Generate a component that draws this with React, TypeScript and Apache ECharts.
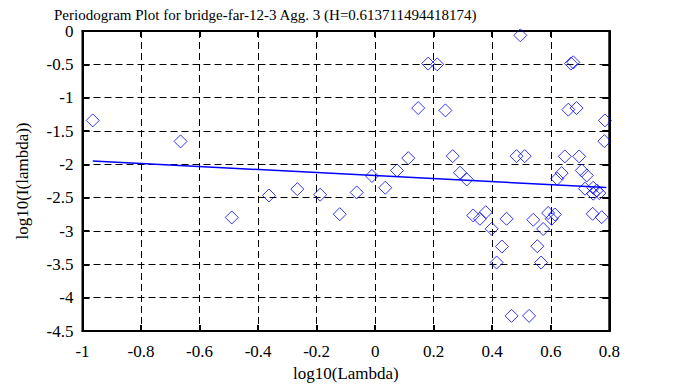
import React, { useEffect, useRef } from "react";
import * as echarts from "echarts";

const titleText = "Periodogram Plot for bridge-far-12-3 Agg. 3 (H=0.613711494418174)";
const xName = "log10(Lambda)";
const yName = "log10(I(lambda))";

const pointX = [
  -0.965, -0.665, -0.49, -0.363, -0.266, -0.188, -0.121, -0.063, -0.011, 0.0345,
  0.0745, 0.113, 0.147, 0.181, 0.212, 0.24, 0.265, 0.29, 0.313, 0.335,
  0.358, 0.378, 0.398, 0.449, 0.433, 0.415, 0.466, 0.526, 0.483, 0.511,
  0.496, 0.54, 0.554, 0.567, 0.574, 0.591, 0.603, 0.614, 0.637, 0.622,
  0.648, 0.697, 0.66, 0.688, 0.669, 0.677, 0.706, 0.723, 0.717, 0.745,
  0.757, 0.745, 0.766, 0.743, 0.774, 0.785, 0.783,
];
const pointY = [
  -1.341, -1.656, -2.797, -2.467, -2.372, -2.456, -2.748, -2.422, -2.174, -2.351,
  -2.092, -1.907, -1.156, -0.489, -0.5, -1.191, -1.877, -2.126, -2.227, -2.767,
  -2.817, -2.718, -2.967, -2.817, -3.233, -3.473, -4.273, -4.273, -1.877, -1.877,
  -0.065, -2.832, -3.228, -3.473, -2.97, -2.73, -2.817, -2.752, -2.132, -2.216,
  -1.881, -1.881, -1.18, -1.156, -0.489, -0.47, -2.092, -2.167, -2.366, -2.351,
  -2.392, -2.441, -2.432, -2.742, -2.793, -1.341, -1.652,
];
const fitX = [-0.965, 0.79];
const fitY = [-1.95, -2.349];

const xTicks = { min: -1, max: 0.8, interval: 0.2 };
const yTicks = { min: -4.5, max: 0, interval: 0.5 };

const FONT = "'Liberation Serif', 'DejaVu Serif', serif";

export default function App() {
  const ref = useRef<HTMLDivElement>(null);
  useEffect(() => {
    if (!ref.current) return;
    const chart = echarts.init(ref.current, null, { renderer: "svg" });
    const gridLine = { show: true, lineStyle: { color: "#000", width: 1, type: [7, 4] as any } };
    const labelStyle = { color: "#000", fontFamily: FONT, fontSize: 17 };
    chart.setOption({
      animation: false,
      backgroundColor: "#fff",
      textStyle: { fontFamily: FONT },
      title: {
        text: titleText,
        left: 49,
        top: 2,
        textStyle: { color: "#000", fontFamily: FONT, fontSize: 15, fontWeight: "normal" },
      },
      grid: {
        left: 82.5,
        right: 68.7,
        top: 31,
        bottom: 56,
        show: true,
        borderColor: "#000",
        borderWidth: 2,
        backgroundColor: "transparent",
      },
      xAxis: [
        {
          type: "value",
          ...xTicks,
          position: "bottom",
          name: xName,
          nameLocation: "middle",
          nameGap: 32,
          nameTextStyle: labelStyle,
          axisLine: { show: true, onZero: false, lineStyle: { color: "#000", width: 2 } },
          axisTick: { show: true, inside: true, length: 6, lineStyle: { color: "#000", width: 2 } },
          axisLabel: { ...labelStyle, margin: 12 },
          splitLine: gridLine,
        },
        {
          type: "value",
          ...xTicks,
          position: "top",
          axisLine: { show: true, onZero: false, lineStyle: { color: "#000", width: 2 } },
          axisTick: { show: true, inside: true, length: 6, lineStyle: { color: "#000", width: 2 } },
          axisLabel: { show: false },
          splitLine: { show: false },
        },
      ],
      yAxis: [
        {
          type: "value",
          ...yTicks,
          position: "left",
          name: yName,
          nameLocation: "middle",
          nameGap: 52,
          nameRotate: 90,
          nameTextStyle: labelStyle,
          axisLine: { show: true, onZero: false, lineStyle: { color: "#000", width: 2 } },
          axisTick: { show: true, inside: true, length: 7, lineStyle: { color: "#000", width: 2 } },
          axisLabel: { ...labelStyle, margin: 9 },
          splitLine: gridLine,
        },
        {
          type: "value",
          ...yTicks,
          position: "right",
          axisLine: { show: true, onZero: false, lineStyle: { color: "#000", width: 2 } },
          axisTick: { show: true, inside: true, length: 7, lineStyle: { color: "#000", width: 2 } },
          axisLabel: { show: false },
          splitLine: { show: false },
        },
      ],
      series: [
        {
          type: "scatter",
          data: pointX.map((x, i) => [x, pointY[i]]),
          symbol: "diamond",
          symbolSize: 13,
          itemStyle: { color: "transparent", borderColor: "#0000ff", borderWidth: 1 },
          z: 3,
        },
        {
          type: "line",
          data: fitX.map((x, i) => [x, fitY[i]]),
          showSymbol: false,
          symbol: "none",
          lineStyle: { color: "#0000ff", width: 1.5 },
          z: 4,
        },
      ],
    });
    return () => chart.dispose();
  }, []);
  return <div ref={ref} style={{ width: 678, height: 387, position: "absolute", left: 0, top: 0 }} />;
}
